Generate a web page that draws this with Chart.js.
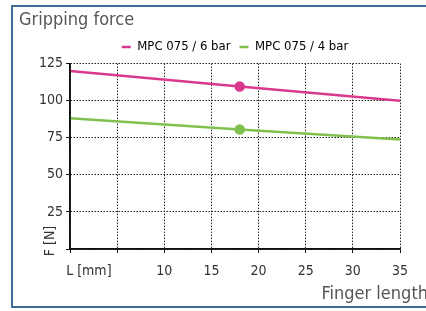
<!DOCTYPE html>
<html>
<head>
<meta charset="utf-8">
<script src="https://cdn.jsdelivr.net/npm/chart.js@4.4.0/dist/chart.umd.min.js"></script>
<style>
  html, body { margin: 0; padding: 0; background: #fff; overflow: hidden; }
  #frame { position: absolute; left: 11px; top: 5px; width: 430px; height: 299px; border: 2px solid #3f6b95; }
  #wrap { position: absolute; left: 0; top: 0; width: 426px; height: 311px; }
</style>
</head>
<body>
<div id="frame"></div>
<div id="wrap"><canvas id="chart"></canvas></div>
<script>
const FONT = "'Liberation Sans Narrow', 'DejaVu Sans Condensed', Roboto, sans-serif"

// finger length L [mm]
const lengths = [0, 18, 35]
// gripping force F [N]
const force6bar = [120, 109.6, 100]
const force4bar = [88.2, 80.6, 73.8]
const seriesNames = ['MPC 075 / 6 bar', 'MPC 075 / 4 bar']
const xTicks = [0, 5, 10, 15, 20, 25, 30, 35]
const xTickLabels = ['', '', '10', '15', '20', '25', '30', '35']
const yTicks = [0, 25, 50, 75, 100, 125]
const yTickLabels = ['', '25', '50', '75', '100', '125']

const pink = '#d9388d'
const green = '#80c14e'

const toPoints = (vals) => lengths.map((l, i) => ({ x: l, y: vals[i] }))

// solid axes over the dotted grid, plus the axis texts "F [N]", "L [mm]" and "Finger length"
const axisTexts = {
  id: 'axisTexts',
  afterDraw(chart) {
    const ctx = chart.ctx
    const area = chart.chartArea
    const x = chart.scales.x
    ctx.save()
    ctx.setLineDash([])
    ctx.strokeStyle = '#111'
    ctx.lineWidth = 1.5
    ctx.beginPath()
    ctx.moveTo(area.left, area.top)
    ctx.lineTo(area.left, area.bottom)
    ctx.lineTo(area.right, area.bottom)
    ctx.stroke()

    ctx.fillStyle = '#333'
    ctx.font = '14px ' + FONT
    ctx.textAlign = 'center'
    ctx.textBaseline = 'middle'
    ctx.fillText('L [mm]', x.getPixelForValue(2), 271)

    ctx.save()
    ctx.translate(50, 241)
    ctx.rotate(-Math.PI / 2)
    ctx.fillText('F [N]', 0, 0)
    ctx.restore()

    ctx.fillStyle = '#555'
    ctx.font = '18px ' + FONT
    ctx.textAlign = 'right'
    ctx.fillText('Finger length', 428, 294)
    ctx.restore()
  }
}

const gridOpts = {
  color: '#222',
  lineWidth: 1,
  tickBorderDash: [],
  tickColor: '#111',
  tickLength: 4
}

new Chart(document.getElementById('chart'), {
  type: 'line',
  data: {
    datasets: [
      {
        label: seriesNames[0],
        data: toPoints(force6bar),
        borderColor: pink,
        backgroundColor: pink,
        borderWidth: 2.5,
        pointRadius: [0, 4, 0],
        pointHoverRadius: [0, 4, 0]
      },
      {
        label: seriesNames[1],
        data: toPoints(force4bar),
        borderColor: green,
        backgroundColor: green,
        borderWidth: 2.5,
        pointRadius: [0, 4, 0],
        pointHoverRadius: [0, 4, 0]
      }
    ]
  },
  options: {
    responsive: true,
    maintainAspectRatio: false,
    animation: false,
    layout: { padding: { left: 19, right: 26, top: 0, bottom: 0 } },
    plugins: {
      tooltip: { enabled: false },
      title: {
        display: true,
        text: 'Gripping force',
        align: 'start',
        color: '#555',
        font: { family: FONT, size: 18, weight: 'normal' },
        padding: { top: 10, bottom: 0 }
      },
      legend: {
        fullSize: false,
        labels: {
          usePointStyle: true,
          pointStyle: 'line',
          pointStyleWidth: 9,
          boxHeight: 8,
          padding: 9,
          color: '#333',
          font: { family: FONT, size: 13 },
          generateLabels(chart) {
            return chart.data.datasets.map((d, i) => ({
              text: d.label,
              strokeStyle: d.borderColor,
              fillStyle: d.borderColor,
              lineWidth: 2.5,
              pointStyle: 'line',
              datasetIndex: i,
              hidden: false
            }))
          }
        }
      }
    },
    scales: {
      x: {
        type: 'linear',
        min: 0,
        max: 35,
        afterFit(scale) { scale.height = 62 },
        afterBuildTicks(scale) { scale.ticks = xTicks.map(v => ({ value: v })) },
        ticks: {
          color: '#333',
          font: { family: FONT, size: 14 },
          padding: 10,
          maxRotation: 0,
          callback: (v) => xTickLabels[xTicks.indexOf(v)]
        },
        border: { display: true, color: '#111', width: 1.5, dash: [1.5, 1.5] },
        grid: gridOpts
      },
      y: {
        min: 0,
        max: 125,
        afterFit(scale) { scale.width = 51 },
        afterBuildTicks(scale) { scale.ticks = yTicks.map(v => ({ value: v })) },
        ticks: {
          color: '#333',
          font: { family: FONT, size: 14 },
          padding: 3,
          callback: (v) => yTickLabels[yTicks.indexOf(v)]
        },
        border: { display: true, color: '#111', width: 1.5, dash: [1.5, 1.5] },
        grid: gridOpts
      }
    }
  },
  plugins: [axisTexts]
});
</script>
</body>
</html>
